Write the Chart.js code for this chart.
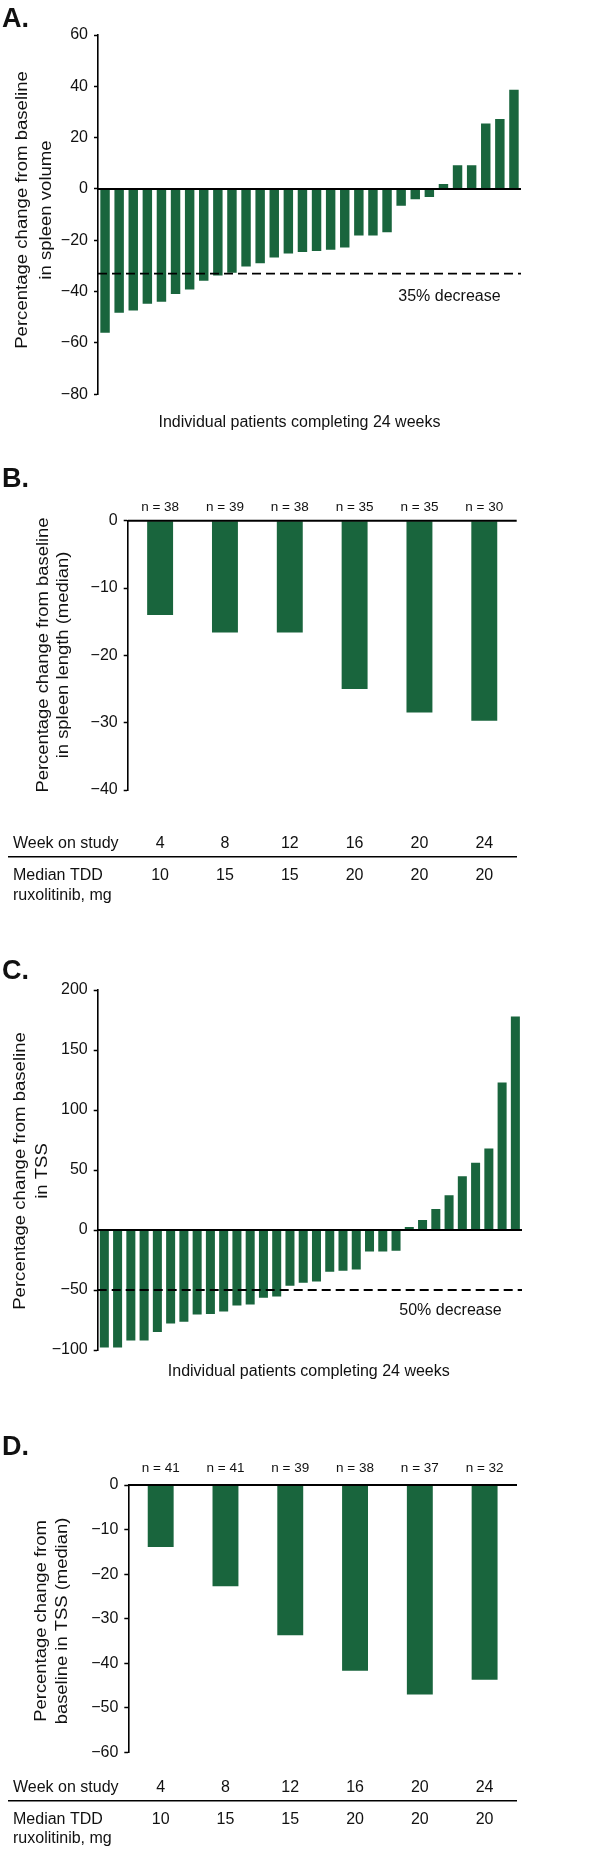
<!DOCTYPE html>
<html>
<head>
<meta charset="utf-8">
<script src="https://cdn.jsdelivr.net/npm/chart.js@4.4.1/dist/chart.umd.min.js"></script>
<style>
  html, body { margin: 0; padding: 0; background: #fff; }
  #wrap { position: relative; width: 600px; height: 1852px; }
  canvas { position: absolute; left: 0; }
</style>
</head>
<body>
<div id="wrap">
  <canvas id="chartA" width="600" height="440" style="top:0px"></canvas>
  <canvas id="chartB" width="600" height="470" style="top:440px"></canvas>
  <canvas id="chartC" width="600" height="490" style="top:900px"></canvas>
  <canvas id="chartD" width="600" height="462" style="top:1390px"></canvas>
</div>
<script>
// A. spleen volume, one bar per patient
const spleenVolumeChange = [
  -56, -48.2, -47.3, -44.7, -43.9, -40.9, -39.2, -35.8, -33.7, -32.6,
  -30.2, -28.9, -26.7, -25.1, -24.6, -24.2, -23.7, -22.8, -18.1, -18.1,
  -16.9, -6.5, -4.0, -3.1, 1.9, 9.2, 9.2, 25.5, 27.3, 38.7
];
const spleenVolumeCut = -33;
const spleenVolumeTicks = [60, 40, 20, 0, -20, -40, -60, -80];

// B. spleen length, median by week
const weekLabels = ["4", "8", "12", "16", "20", "24"];
const spleenLengthMedian = [-14.0, -16.6, -16.6, -25.0, -28.5, -29.7];
const spleenLengthN = [38, 39, 38, 35, 35, 30];
const spleenLengthTDD = [10, 15, 15, 20, 20, 20];
const spleenLengthTicks = [0, -10, -20, -30, -40];

// C. TSS, one bar per patient
const tssChange = [
  -98, -98, -92, -92, -85, -78, -76.5, -70.5, -70, -68,
  -63, -62, -56.5, -55.5, -46.5, -44, -43, -34.7, -34, -33,
  -18, -18, -17.2, 2.5, 8.3, 17.5, 29, 44.7, 56, 68, 123, 178
];
const tssCut = -50;
const tssTicks = [200, 150, 100, 50, 0, -50, -100];

// D. TSS, median by week
const tssMedian = [-13.9, -22.7, -33.7, -41.7, -47.0, -43.7];
const tssN = [41, 41, 39, 38, 37, 32];
const tssTDD = [10, 15, 15, 20, 20, 20];
const tssMedianTicks = [0, -10, -20, -30, -40, -50, -60];

const FONT = '"Liberation Sans", Arial, sans-serif';
const BAR = "#19653d";
const INK = "#111";

function minus(v) {
  return String(v).replace("-", "\u2212");
}

function drawText(ctx, s, x, y, font, align, base) {
  ctx.font = font;
  ctx.fillStyle = INK;
  ctx.textAlign = align || "left";
  ctx.textBaseline = base || "alphabetic";
  ctx.fillText(s, x, y);
}

function makePanel(id, p) {

  const canvas =
    document.getElementById(id);

  if (!canvas)
    return;

  const T = p.top;
  const H = p.height || canvas.height;

  const extras = {
    id: "extras" + id,

    afterDatasetsDraw(chart) {
      const ctx = chart.ctx;
      const ys = chart.scales.y;
      const area = chart.chartArea;

      ctx.save();

      // zero line over the bars
      const y0 = ys.getPixelForValue(0);
      ctx.strokeStyle = "#000";
      ctx.lineWidth = 2;
      ctx.beginPath();
      ctx.moveTo(area.left, y0);
      ctx.lineTo(area.right, y0);
      ctx.stroke();

      if (p.cut) {
        const yc = ys.getPixelForValue(p.cut.value);
        ctx.setLineDash([9, 5]);
        ctx.lineWidth = 1.8;
        ctx.beginPath();
        ctx.moveTo(area.left, yc);
        ctx.lineTo(area.right, yc);
        ctx.stroke();
        ctx.setLineDash([]);
        drawText(ctx, p.cut.label, p.cut.x, p.cut.y - T, "16px " + FONT);
      }

      ctx.restore();
    },

    afterDraw(chart) {
      const ctx = chart.ctx;
      const xs = chart.scales.x;

      ctx.save();

      drawText(ctx, p.letter, 2, p.letterY - T, "bold 27px " + FONT);

      // rotated y title, stretched along its length
      ctx.font = "16px " + FONT;
      ctx.fillStyle = INK;
      ctx.textAlign = "center";
      ctx.textBaseline = "middle";
      p.yTitle.forEach((line, i) => {
        ctx.save();
        ctx.translate(p.yTitleX[i], p.yTitleY - T);
        ctx.rotate(-Math.PI / 2);
        ctx.scale(p.stretch, 1);
        ctx.fillText(line, 0, 0);
        ctx.restore();
      });

      if (p.xTitle)
        drawText(ctx, p.xTitle, p.xTitleX, p.xTitleY - T, "16px " + FONT, "center");

      if (p.nValues) {
        p.nValues.forEach((n, i) => {
          drawText(ctx, "n = " + n, xs.getPixelForValue(i), p.nY - T,
            "13.5px " + FONT, "center", "middle");
        });
      }

      if (p.table) {
        const t = p.table;
        drawText(ctx, "Week on study", 13, t.y1 - T, "16px " + FONT, "left", "middle");
        drawText(ctx, "Median TDD", 13, t.y2 - T, "16px " + FONT, "left", "middle");
        drawText(ctx, "ruxolitinib, mg", 13, t.y3 - T, "16px " + FONT, "left", "middle");
        weekLabels.forEach((w, i) => {
          const x = xs.getPixelForValue(i);
          drawText(ctx, w, x, t.y1 - T, "16px " + FONT, "center", "middle");
          drawText(ctx, String(t.tdd[i]), x, t.y2 - T, "16px " + FONT, "center", "middle");
        });
        ctx.strokeStyle = "#000";
        ctx.lineWidth = 1.6;
        ctx.beginPath();
        ctx.moveTo(8, t.line - T);
        ctx.lineTo(517, t.line - T);
        ctx.stroke();
      }

      ctx.restore();
    }
  };

  const yMax = p.ticks[0];
  const yMin = p.ticks[p.ticks.length - 1];

  return new Chart(canvas, {
    type: "bar",
    data: {
      labels: p.labels,
      datasets: [{
        data: p.values,
        backgroundColor: BAR,
        borderWidth: 0,
        barPercentage: p.barPct,
        categoryPercentage: 1
      }]
    },
    options: {
      responsive: false,
      animation: false,
      devicePixelRatio: 1,
      layout: {
        padding: {
          left: 0,
          right: 600 - p.right,
          top: p.areaTop - T,
          bottom: T + H - p.areaBottom
        }
      },
      plugins: {
        legend: { display: false },
        tooltip: { enabled: false }
      },
      scales: {
        x: { display: false },
        y: {
          min: yMin,
          max: yMax,
          afterBuildTicks: s => {
            s.ticks = p.ticks.map(v => ({ value: v }));
          },
          afterFit: s => {
            s.width = p.axisX;
          },
          ticks: {
            font: { family: FONT, size: 16 },
            color: INK,
            padding: 6,
            callback: v => minus(v)
          },
          grid: {
            display: true,
            drawOnChartArea: false,
            drawTicks: true,
            tickLength: 4,
            tickWidth: 1.5,
            tickColor: "#000"
          },
          border: { display: true, color: "#000", width: 1.6 }
        }
      }
    },
    plugins: [extras]
  });
}

makePanel("chartA", {
  top: 0,
  labels: spleenVolumeChange.map((v, i) => String(i + 1)),
  values: spleenVolumeChange,
  ticks: spleenVolumeTicks,
  areaTop: 35, areaBottom: 394.3,
  axisX: 98, right: 521, barPct: 0.67,
  letter: "A.", letterY: 26.7,
  yTitle: ["Percentage change from baseline", "in spleen volume"],
  yTitleX: [23, 47], yTitleY: 210, stretch: 1.16,
  xTitle: "Individual patients completing 24 weeks", xTitleX: 299.5, xTitleY: 426.7,
  cut: { value: spleenVolumeCut, label: "35% decrease", x: 398.3, y: 301 }
});

makePanel("chartB", {
  top: 440,
  labels: weekLabels,
  values: spleenLengthMedian,
  ticks: spleenLengthTicks,
  areaTop: 520.7, areaBottom: 790,
  axisX: 127.7, right: 516.7, barPct: 0.4,
  letter: "B.", letterY: 486.7,
  yTitle: ["Percentage change from baseline", "in spleen length (median)"],
  yTitleX: [43.5, 63.5], yTitleY: 655, stretch: 1.15,
  nValues: spleenLengthN, nY: 507,
  table: { tdd: spleenLengthTDD, y1: 843.5, line: 856.7, y2: 875.5, y3: 896 }
});

makePanel("chartC", {
  top: 900,
  labels: tssChange.map((v, i) => String(i + 1)),
  values: tssChange,
  ticks: tssTicks,
  areaTop: 990, areaBottom: 1350,
  axisX: 97.7, right: 522, barPct: 0.68,
  letter: "C.", letterY: 979,
  yTitle: ["Percentage change from baseline", "in TSS"],
  yTitleX: [20.5, 42.5], yTitleY: 1171, stretch: 1.16,
  xTitle: "Individual patients completing 24 weeks", xTitleX: 308.8, xTitleY: 1376,
  cut: { value: tssCut, label: "50% decrease", x: 399.3, y: 1315 }
});

makePanel("chartD", {
  top: 1390,
  labels: weekLabels,
  values: tssMedian,
  ticks: tssMedianTicks,
  areaTop: 1485, areaBottom: 1752.3,
  axisX: 128.3, right: 517, barPct: 0.4,
  letter: "D.", letterY: 1455,
  yTitle: ["Percentage change from", "baseline in TSS (median)"],
  yTitleX: [41.5, 62.5], yTitleY: 1621, stretch: 1.15,
  nValues: tssN, nY: 1468,
  table: { tdd: tssTDD, y1: 1788, line: 1800.7, y2: 1820, y3: 1839 }
});
</script>
</body>
</html>
